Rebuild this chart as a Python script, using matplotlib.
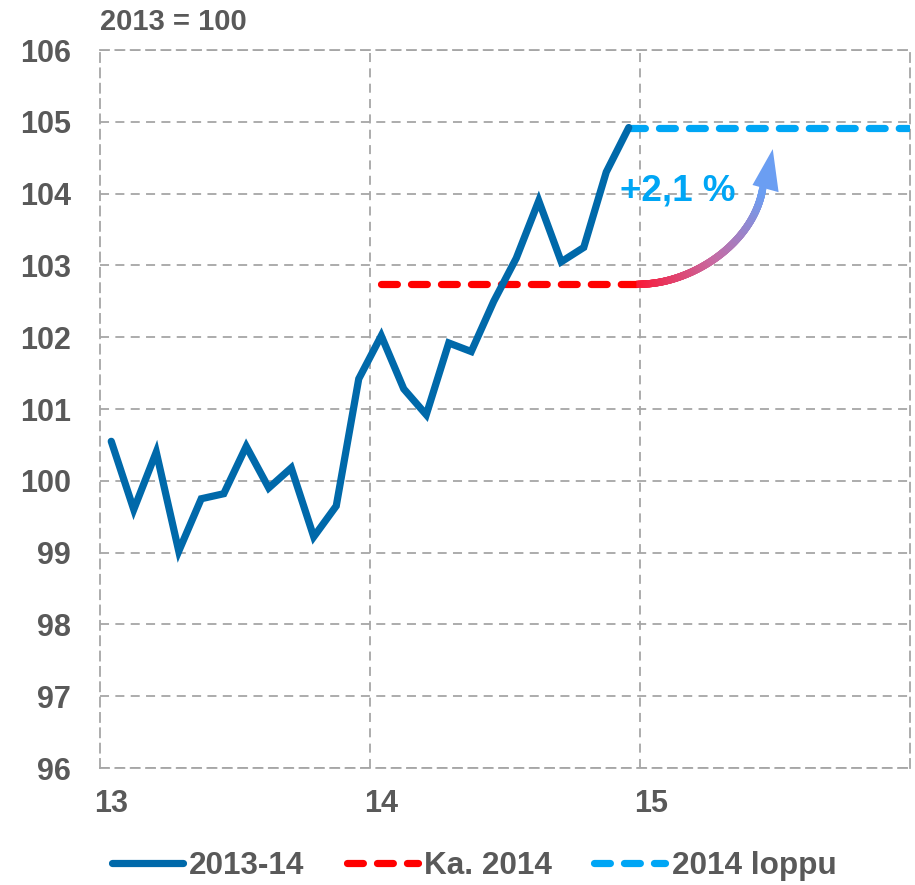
import numpy as np
import matplotlib.pyplot as plt
from matplotlib.collections import LineCollection
from matplotlib.patches import Polygon

# indeksi, 2013 = 100, kuukausittain 2013-2014
months = np.arange(24)
index_values = [100.55, 99.6, 100.4, 99.02, 99.75, 99.82, 100.48, 99.9, 100.18, 99.22, 99.65, 101.42,
                102.02, 101.28, 100.92, 101.92, 101.8, 102.5, 103.1, 103.9, 103.05, 103.25, 104.3, 104.92]
ka_2014 = 102.74
loppu_2014 = 104.92
year_labels = ['13', '14', '15']
change_label = '+2,1 %'

gray = '#595959'
grid_col = '#a6a6a6'
c_main = '#0069aa'
c_red = '#ff0000'
c_light = '#00a6f5'
font = 'Liberation Sans'

fig = plt.figure(figsize=(9.15, 8.85), dpi=100)
ax = fig.add_axes([100/915, 1-768/885, 810/915, 718/885])

lw = 5.2
ax.plot(months, index_values, color=c_main, lw=lw, solid_joinstyle='miter', solid_capstyle='round',
        label='2013-14', zorder=4)
ax.plot([12, 23.5], [ka_2014, ka_2014], color=c_red, lw=lw, dashes=(2.2, 1.95),
        dash_capstyle='round', label='Ka. 2014', zorder=3)
ax.plot([23, 35.4], [loppu_2014, loppu_2014], color=c_light, lw=lw, dashes=(2.2, 1.95),
        dash_capstyle='round', label='2014 loppu', zorder=3)

# gradient arrow (red -> pink -> blue)
P = np.array([[23.5, ka_2014], [25.72, ka_2014], [28.48, 103.28], [28.94, 104.05]])
t = np.linspace(0, 1, 100)[:, None]
curve = (1-t)**3*P[0] + 3*(1-t)**2*t*P[1] + 3*(1-t)*t**2*P[2] + t**3*P[3]
segs = np.stack([curve[:-1], curve[1:]], axis=1)
stops = np.array([[0.98, 0.1, 0.22], [0.78, 0.42, 0.64], [0.42, 0.62, 0.95]])
s = np.linspace(0, 1, len(segs))
cols = np.column_stack([np.interp(s, [0, 0.5, 1], stops[:, k]) for k in range(3)])
ax.add_collection(LineCollection(segs, colors=cols, linewidths=lw, capstyle='projecting', zorder=5))
ax.add_patch(Polygon([[28.5, 104.12], [29.4, 104.62], [29.66, 104.02]], closed=True,
                     color=stops[-1], lw=0, zorder=5))
ax.text(22.6, 104.03, change_label, color=c_light, fontsize=26.5, fontweight='bold',
        family=font, ha='left', va='center', zorder=6)

ax.set_xlim(-0.5, 35.5)
ax.set_ylim(96, 106)
ax.set_yticks(np.arange(96, 107))
ax.set_xticks([0, 12, 24])
ax.set_xticklabels(year_labels)
ax.set_xticks([11.5, 23.5], minor=True)
ax.tick_params(axis='both', which='both', length=0)
ax.tick_params(axis='y', pad=21, labelsize=22, labelcolor=gray)
ax.tick_params(axis='x', pad=15, labelsize=22, labelcolor=gray)
for lab in ax.get_yticklabels() + ax.get_xticklabels():
    lab.set_fontweight('bold')
    lab.set_family(font)

ax.grid(which='major', axis='y', color=grid_col, ls=(0, (5, 3.5)), lw=1.3)
ax.grid(which='minor', axis='x', color=grid_col, ls=(0, (5, 3.5)), lw=1.3)
for sp in ax.spines.values():
    sp.set_color(grid_col)
    sp.set_linestyle((0, (5, 3.5)))
    sp.set_linewidth(1.3)

fig.text(100/915, 1-22/885, '2013 = 100', color=gray, fontsize=21, fontweight='bold',
         family=font, ha='left', va='center')

leg = fig.legend(loc='center', bbox_to_anchor=(474/915, 1-866/885), ncol=3, frameon=False,
                 handlelength=2.25, handletextpad=0.2, columnspacing=1.35,
                 prop={'family': font, 'weight': 'bold', 'size': 22.7})
for txt in leg.get_texts():
    txt.set_color(gray)

fig.savefig('out.png', dpi=100)
